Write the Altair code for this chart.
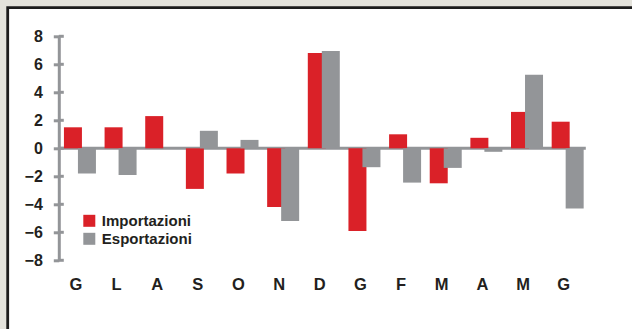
import altair as alt
import pandas as pd

months = ["G", "L", "A", "S", "O", "N", "D", "G", "F", "M", "A", "M", "G"]
importazioni = [1.5, 1.5, 2.3, -2.9, -1.8, -4.2, 6.8, -5.9, 1.0, -2.5, 0.75, 2.6, 1.9]
esportazioni = [-1.8, -1.9, 0.0, 1.25, 0.6, -5.2, 6.95, -1.35, -2.45, -1.4, -0.25, 5.25, -4.3]
series_names = ["Importazioni", "Esportazioni"]
y_ticks = [-8, -6, -4, -2, 0, 2, 4, 6, 8]

RED = "#da2128"
GREY = "#939598"
INK = "#231f20"
BG = "#e4e3dc"

W, H = 530, 224
PL, PT = 58.8, 36.3
PR = 632 - PL - W
PB = 329 - PT - H

rows = []
for i, m in enumerate(months):
    rows.append({"idx": i, "serie": series_names[0], "v": importazioni[i]})
    rows.append({"idx": i, "serie": series_names[1], "v": esportazioni[i]})
df = pd.DataFrame(rows)

label_expr = "[" + ",".join("'%s'" % m for m in months) + "][datum.value]"

x_enc = alt.X(
    "idx:O",
    scale=alt.Scale(paddingInner=0, paddingOuter=0.02),
    axis=alt.Axis(
        title=None, domain=False, ticks=False, labelAngle=0, labelExpr=label_expr,
        labelFont="Liberation Sans", labelFontWeight="bold", labelFontSize=16.5,
        labelColor=INK, labelPadding=16, labelOffset=-4, zindex=2,
    ),
)
y_scale = alt.Scale(domain=[-8, 8], nice=False, zero=False)
y_axis = alt.Axis(
    title=None, values=y_ticks, grid=False, domainColor=GREY, domainWidth=3,
    tickColor=GREY, tickWidth=3, tickSize=5.5, labelFont="Liberation Sans",
    labelFontWeight="bold", labelFontSize=16, labelColor=INK, labelPadding=11,
    zindex=2,
)
color_enc = alt.Color(
    "serie:N",
    scale=alt.Scale(domain=series_names, range=[RED, GREY]),
    legend=alt.Legend(
        title=None, orient="none", legendX=23, legendY=177, symbolType="square",
        symbolSize=144, symbolStrokeWidth=0, symbolOpacity=1,
        labelFont="Liberation Sans", labelFontWeight="bold",
        labelFontSize=15, labelColor=INK, labelOffset=5, rowPadding=2, padding=0,
        zindex=3,
    ),
)

frame = alt.Chart(pd.DataFrame({"a": [0]})).mark_rect(
    fill="white", stroke="#1c1c1c", strokeWidth=2.8
).encode(
    x=alt.value(7.7 - PL), x2=alt.value(632 - PL + 10),
    y=alt.value(7.7 - PT), y2=alt.value(329 - PT + 10),
)

zero = alt.Chart(pd.DataFrame({"z": [0]})).mark_rule(color=GREY, strokeWidth=3).encode(
    y=alt.Y("z:Q", scale=y_scale, axis=y_axis), x=alt.value(0), x2=alt.value(W - 3)
)

stubs = alt.Chart(pd.DataFrame({"t": y_ticks})).mark_rule(color=GREY, strokeWidth=3).encode(
    y=alt.Y("t:Q", scale=y_scale, axis=y_axis), x=alt.value(0), x2=alt.value(5)
)

base = alt.Chart(df)
red_bars = base.transform_filter(alt.datum.serie == series_names[0]).mark_bar(
    size=18, xOffset=-7
).encode(x=x_enc, y=alt.Y("v:Q", scale=y_scale, axis=y_axis), color=color_enc)
grey_bars = base.transform_filter(alt.datum.serie == series_names[1]).mark_bar(
    size=18, xOffset=7
).encode(x=x_enc, y=alt.Y("v:Q", scale=y_scale, axis=y_axis), color=color_enc)

chart = alt.layer(frame, zero, stubs, red_bars, grey_bars).properties(
    width=W, height=H,
    autosize=alt.AutoSizeParams(type="none"),
    padding={"left": PL, "top": PT, "right": PR, "bottom": PB},
    background=BG,
).configure_view(stroke=None)

chart.save("out.html", embed_options={"renderer": "svg", "actions": False})
